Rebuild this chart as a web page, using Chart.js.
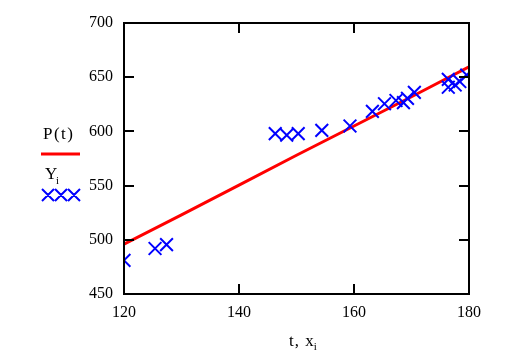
<!DOCTYPE html>
<html>
<head>
<meta charset="utf-8">
<script src="https://cdn.jsdelivr.net/npm/chart.js@4"></script>
<style>
  html, body { margin: 0; padding: 0; background: #fff; }
</style>
</head>
<body>
<canvas id="chart1" width="508" height="352"></canvas>
<script>
// fitted curve P(t)
var fitT = [120, 130, 140, 150, 160, 170, 180];
var fitP = [496, 523, 550.5, 578, 605, 632, 659.5];
// observations x_i, Y_i
var obsX = [120, 125.4, 127.4, 146.3, 148.3, 150.3, 154.4, 159.3, 163.2, 165.3, 167.3, 168.6, 169.3, 170.5, 176.4, 176.4, 177.6, 178.4, 179.6];
var obsY = [481, 492, 495.5, 598, 596.5, 598, 601, 605, 618.5, 625.5, 628.5, 626.5, 630.5, 636, 648, 640.7, 642.8, 646, 652];
// axis ticks
var xTicks = [120, 140, 160, 180];
var yTicks = [450, 500, 550, 600, 650, 700];

var serif = "'Liberation Serif', 'Times New Roman', serif";

// thick frame + inward tick marks
const framePlugin = {
    id: 'frame',
    afterDatasetsDraw(chart) {
        const ctx = chart.ctx, a = chart.chartArea;
        const sx = chart.scales.x, sy = chart.scales.y;
        const len = 10;
        ctx.save();
        ctx.strokeStyle = '#000';
        ctx.lineWidth = 2;
        ctx.strokeRect(a.left, a.top, a.right - a.left, a.bottom - a.top);
        ctx.beginPath();
        xTicks.forEach(v => {
            const px = Math.round(sx.getPixelForValue(v));
            ctx.moveTo(px, a.bottom); ctx.lineTo(px, a.bottom - len);
            ctx.moveTo(px, a.top); ctx.lineTo(px, a.top + len);
        });
        yTicks.forEach(v => {
            const py = Math.round(sy.getPixelForValue(v));
            ctx.moveTo(a.left, py); ctx.lineTo(a.left + len, py);
            ctx.moveTo(a.right, py); ctx.lineTo(a.right - len, py);
        });
        ctx.stroke();
        ctx.restore();
    }
};

// Mathcad-style legend on the left and axis caption
const labelPlugin = {
    id: 'labels',
    afterDraw(chart) {
        const ctx = chart.ctx;
        ctx.save();
        ctx.fillStyle = '#000';
        ctx.textBaseline = 'alphabetic';
        ctx.textAlign = 'left';
        ctx.letterSpacing = '1.5px';
        ctx.font = '17px ' + serif;
        ctx.fillText('P(t)', 43, 139);
        ctx.fillText('Y', 45, 179);
        ctx.letterSpacing = '0px';
        ctx.font = '11px ' + serif;
        ctx.fillText('i', 56, 184);

        ctx.strokeStyle = '#ff0000';
        ctx.lineWidth = 3;
        ctx.beginPath();
        ctx.moveTo(41, 154); ctx.lineTo(80, 154);
        ctx.stroke();

        ctx.strokeStyle = '#0000ff';
        ctx.lineWidth = 2;
        ctx.beginPath();
        [48, 61, 74].forEach(cx => {
            ctx.moveTo(cx - 6, 189); ctx.lineTo(cx + 6, 201);
            ctx.moveTo(cx + 6, 189); ctx.lineTo(cx - 6, 201);
        });
        ctx.stroke();

        // axis caption "t, x_i"
        ctx.letterSpacing = '1px';
        ctx.font = '17px ' + serif;
        const cap = 't, x';
        const x0 = 289;
        ctx.fillText(cap, x0, 346);
        const w = ctx.measureText(cap).width;
        ctx.letterSpacing = '0px';
        ctx.font = '11px ' + serif;
        ctx.fillText('i', x0 + w - 1, 350);
        ctx.restore();
    }
};

const ctx1 = document.getElementById('chart1');
var chart = new Chart(ctx1, {
    type: 'scatter',
    data: {
        datasets: [{
            label: 'P(t)',
            data: fitT.map((t, i) => ({ x: t, y: fitP[i] })),
            showLine: true,
            borderColor: '#ff0000',
            borderWidth: 3,
            pointRadius: 0,
            tension: 0,
            order: 2
        }, {
            label: 'Y_i',
            data: obsX.map((x, i) => ({ x: x, y: obsY[i] })),
            pointStyle: 'crossRot',
            pointRadius: 9,
            borderColor: '#0000ff',
            borderWidth: 2,
            order: 1
        }]
    },
    options: {
        responsive: false,
        animation: false,
        devicePixelRatio: 1,
        layout: { padding: { left: 0, right: 39, top: 23, bottom: 0 } },
        plugins: { legend: { display: false }, tooltip: { enabled: false } },
        scales: {
            x: {
                type: 'linear', min: 120, max: 180,
                afterBuildTicks: s => { s.ticks = xTicks.map(v => ({ value: v })); },
                afterFit: s => { s.height = 58; },
                grid: { display: false, drawTicks: false },
                border: { display: false },
                ticks: { color: '#000', padding: 9, maxRotation: 0, font: { family: serif, size: 16 } }
            },
            y: {
                type: 'linear', min: 450, max: 700,
                afterBuildTicks: s => { s.ticks = yTicks.map(v => ({ value: v })); },
                afterFit: s => { s.width = 124; },
                grid: { display: false, drawTicks: false },
                border: { display: false },
                ticks: { color: '#000', padding: 11, font: { family: serif, size: 16 } }
            }
        }
    },
    plugins: [framePlugin, labelPlugin]
});
</script>
</body>
</html>
